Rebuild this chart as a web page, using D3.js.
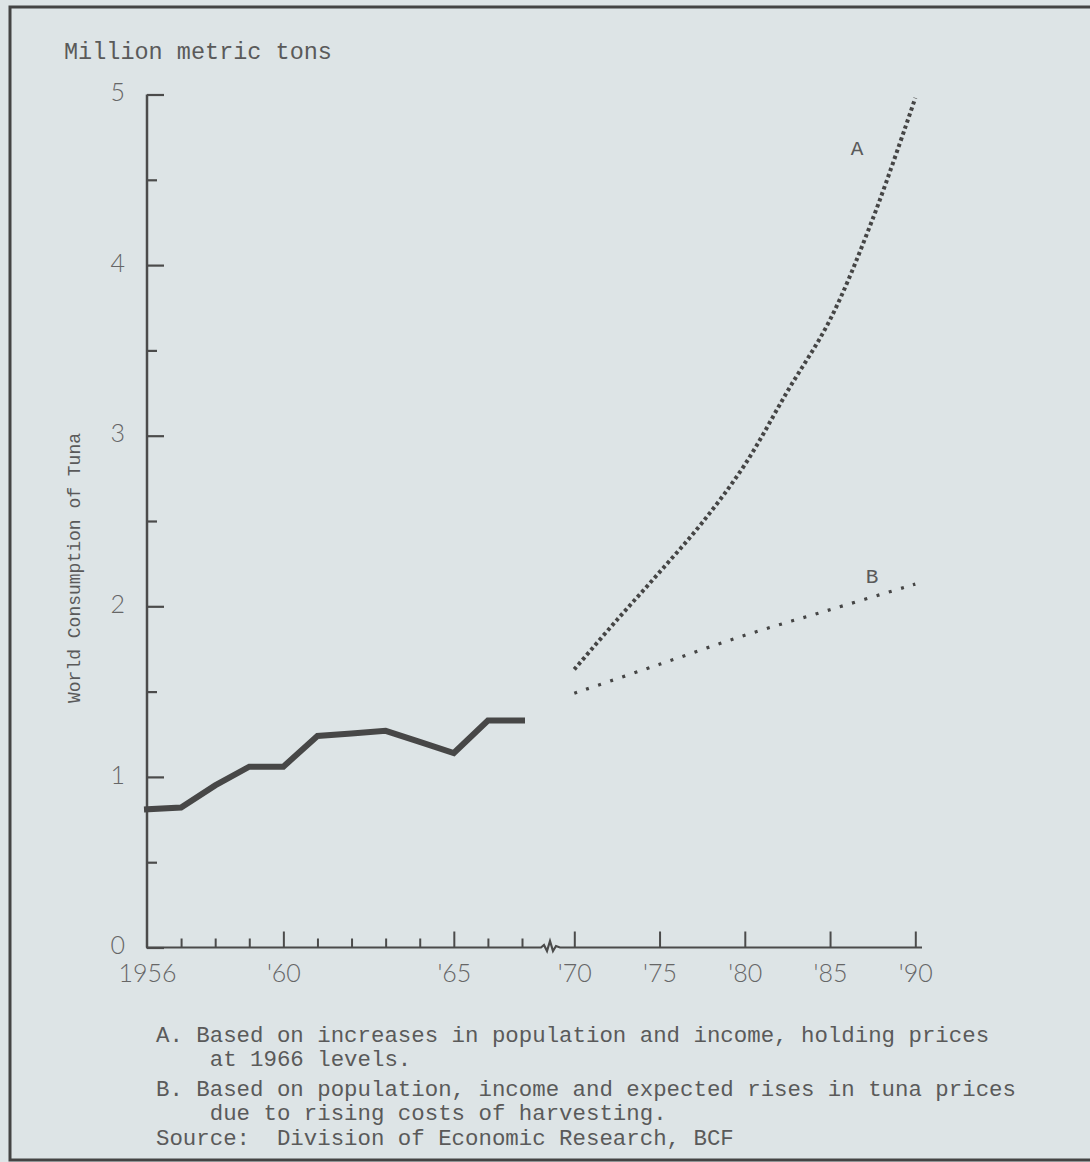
<!DOCTYPE html>
<html>
<head>
<meta charset="utf-8">
<script src="https://cdn.jsdelivr.net/npm/d3@7"></script>
<style>
  body { margin: 0; background: #dde4e6; }
  svg { display: block; }
  .mono { font-family: "Liberation Mono", "DejaVu Sans Mono", monospace; fill: #5a5a5a; }
  .tick text { font-family: Lato, "Open Sans", sans-serif; font-weight: 300; fill: #666; }
</style>
</head>
<body>
<div id="graphicContainer"></div>
<script>

// historical consumption, million metric tons
var years = [1956, 1957, 1958, 1959, 1960, 1961, 1962, 1963, 1964, 1965, 1966, 1967]
var consumption = [0.81, 0.82, 0.95, 1.06, 1.06, 1.24, 1.255, 1.27, 1.205, 1.14, 1.33, 1.33]

// projections
var projYearsA = [1970, 1972.5, 1975, 1977.5, 1980, 1982.5, 1985, 1987.5, 1990]
var projA = [1.63, 1.92, 2.20, 2.49, 2.83, 3.26, 3.68, 4.27, 4.98]
var projYearsB = [1970, 1975, 1980, 1985, 1990]
var projB = [1.49, 1.66, 1.83, 1.98, 2.13]

var yMajor = [0, 1, 2, 3, 4, 5]
var yMinor = [0.5, 1.5, 2.5, 3.5, 4.5]
var xMinorYears = [1957, 1958, 1959, 1961, 1962, 1963, 1964, 1966, 1967]
var xMajorYears = [1960, 1965, 1970, 1975, 1980, 1985, 1990]
var xLabelYears = [1956, 1960, 1965, 1970, 1975, 1980, 1985, 1990]
var xLabels = ["1956", "'60", "'65", "'70", "'75", "'80", "'85", "'90"]

var footnotes = [
	"A. Based on increases in population and income, holding prices",
	"    at 1966 levels.",
	"B. Based on population, income and expected rises in tuna prices",
	"    due to rising costs of harvesting.",
	"Source:  Division of Economic Research, BCF"
]

var width = 1090, height = 1162
var ink = "#4b4b4b"

var svg = d3.select("#graphicContainer").append("svg")
	.attr("width", width)
	.attr("height", height)

svg.append("rect").attr("width", width).attr("height", height).attr("fill", "#dde4e6")

// page frame
svg.append("path")
	.attr("d", "M1095,7 L10,7 L10,1160 L1095,1160")
	.attr("fill", "none")
	.attr("stroke", "#444")
	.attr("stroke-width", 3)

// broken time axis: 1956-67 stretched, 1970-90 compressed
var x = d3.scaleLinear()
	.domain([1956, 1967, 1970, 1990])
	.range([147, 522, 574.3, 915.3])

var y = d3.scaleLinear()
	.domain([0, 5])
	.range([947.5, 94.5])

var breakStart = 541, breakEnd = 560

// axis lines
svg.append("line")
	.attr("x1", x(1956)).attr("x2", x(1956))
	.attr("y1", y(5)).attr("y2", y(0))
	.attr("stroke", ink).attr("stroke-width", 2.5)

svg.append("path")
	.attr("d", "M" + (x(1956) - 1) + "," + y(0) + " L" + breakStart + "," + y(0) +
		" L544,945 L547,951 L550,941 L553,951 L556,946 L" + breakEnd + "," + y(0) +
		" L922," + y(0))
	.attr("fill", "none")
	.attr("stroke", ink).attr("stroke-width", 2.2)

// y ticks
var yAxis = svg.append("g")
	.attr("transform", "translate(" + x(1956) + ",0)")
	.call(d3.axisLeft(y).tickValues(yMajor).tickSize(-17).tickSizeOuter(0).tickPadding(22).tickFormat(d3.format("d")))
yAxis.select(".domain").remove()
yAxis.selectAll("line").attr("stroke", ink).attr("stroke-width", 2.2)
yAxis.selectAll("text").style("font-size", "25px").attr("dy", "0.25em")

var yAxisMinor = svg.append("g")
	.attr("transform", "translate(" + x(1956) + ",0)")
	.call(d3.axisLeft(y).tickValues(yMinor).tickSize(-10).tickSizeOuter(0).tickFormat(""))
yAxisMinor.select(".domain").remove()
yAxisMinor.selectAll("line").attr("stroke", ink).attr("stroke-width", 2.2)

// x ticks
var xAxisMinor = svg.append("g")
	.attr("transform", "translate(0," + y(0) + ")")
	.call(d3.axisBottom(x).tickValues(xMinorYears).tickSize(-9).tickSizeOuter(0).tickFormat(""))
xAxisMinor.select(".domain").remove()
xAxisMinor.selectAll("line").attr("stroke", ink).attr("stroke-width", 2)

var xAxisMajor = svg.append("g")
	.attr("transform", "translate(0," + y(0) + ")")
	.call(d3.axisBottom(x).tickValues(xMajorYears).tickSize(-16).tickSizeOuter(0).tickFormat(""))
xAxisMajor.select(".domain").remove()
xAxisMajor.selectAll("line").attr("stroke", ink).attr("stroke-width", 2)

var xAxisLabels = svg.append("g")
	.attr("transform", "translate(0," + y(0) + ")")
	.call(d3.axisBottom(x).tickValues(xLabelYears).tickSize(0).tickPadding(17)
		.tickFormat(function(d, i) { return xLabels[i] }))
xAxisLabels.select(".domain").remove()
xAxisLabels.selectAll("text").style("font-size", "25px")

// historical line
var line = d3.line()
	.x(function(d) { return x(d[0]) })
	.y(function(d) { return y(d[1]) })

svg.append("path")
	.datum(d3.zip(years, consumption))
	.attr("d", line)
	.attr("fill", "none")
	.attr("stroke", "#474747")
	.attr("stroke-width", 6)
	.attr("stroke-linejoin", "miter")
	.attr("stroke-linecap", "square")

// projections, dotted
var curve = d3.line()
	.x(function(d) { return x(d[0]) })
	.y(function(d) { return y(d[1]) })
	.curve(d3.curveCatmullRom)

svg.append("path")
	.datum(d3.zip(projYearsA, projA))
	.attr("d", curve)
	.attr("fill", "none")
	.attr("stroke", "#454545")
	.attr("stroke-width", 4)
	.attr("stroke-dasharray", "3.4,3")

svg.append("path")
	.datum(d3.zip(projYearsB, projB))
	.attr("d", curve)
	.attr("fill", "none")
	.attr("stroke", "#454545")
	.attr("stroke-width", 3.2)
	.attr("stroke-dasharray", "3,9.7")

svg.append("text").attr("class", "mono")
	.attr("x", 857).attr("y", 155)
	.attr("text-anchor", "middle")
	.style("font-size", "21px")
	.text("A")

svg.append("text").attr("class", "mono")
	.attr("x", 872).attr("y", 583)
	.attr("text-anchor", "middle")
	.style("font-size", "21px")
	.text("B")

// titles
svg.append("text").attr("class", "mono")
	.attr("x", 64).attr("y", 59)
	.style("font-size", "23.5px")
	.text("Million metric tons")

svg.append("text").attr("class", "mono")
	.attr("transform", "translate(80,568) rotate(-90)")
	.attr("text-anchor", "middle")
	.style("font-size", "18px")
	.text("World Consumption of Tuna")

// notes
var noteY = [1042, 1066, 1096, 1120, 1145]
svg.append("g").selectAll("text")
	.data(footnotes)
	.enter()
	.append("text")
	.attr("class", "mono")
	.attr("x", 156)
	.attr("y", function(d, i) { return noteY[i] })
	.attr("xml:space", "preserve")
	.style("white-space", "pre")
	.style("font-size", "22.4px")
	.text(function(d) { return d })

</script>
</body>
</html>
